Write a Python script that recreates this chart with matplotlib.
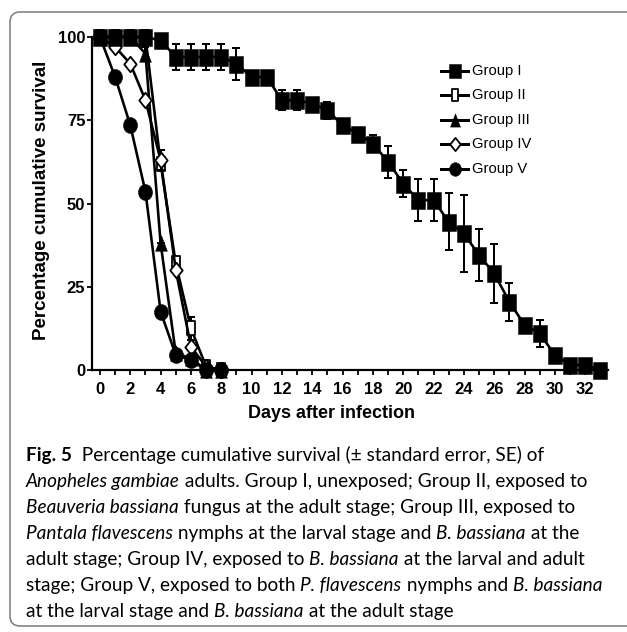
import numpy as np
import matplotlib
matplotlib.use("Agg")
import matplotlib.pyplot as plt
from matplotlib.path import Path
from matplotlib.transforms import Affine2D
from matplotlib.lines import Line2D
from matplotlib.patches import FancyBboxPatch
from matplotlib.ticker import MultipleLocator

# ---- data: percentage cumulative survival per day ----
days_long = list(range(0, 34))
group1 = [100, 100, 100, 100, 99, 94, 94, 94, 94, 92, 88, 88, 81, 81, 80, 78,
          73.5, 71, 68, 62.5, 56, 51, 51, 44.5, 41, 34.5, 29, 20.5, 13.5, 11,
          4.5, 1.5, 1.5, 0]
group1_se = [0, 0, 0, 0, 1.5, 4, 4, 4, 4, 4.8, 1.5, 1.5, 3, 3, 1, 2.5, 1, 1,
             2.5, 4.7, 4, 6.3, 6.3, 8.6, 11.7, 7.8, 8.8, 5.7, 1, 4.1, 0.5, 0.5,
             0.5, 0]

days_short = list(range(0, 9))
group2 = [100, 100, 100, 100, 62, 32, 12.5, 1, 0]
group2_se = [0, 0, 0, 0, 0, 1, 3.5, 0, 0]
group3 = [100, 100, 100, 95, 38, 5, 3.5, 0, 0]
group3_se = [0, 0, 0, 2, 0, 0, 0, 0, 0]
group4 = [100, 97, 92, 81, 63, 30, 7, 1, 0]
group4_se = [0, 0, 0, 0, 3, 0, 0, 0, 0]
group5 = [100, 88, 73.5, 53.5, 17.5, 4.5, 3, 0, 0]
group5_se = [0, 0, 0, 0, 0, 0, 0, 0, 0]

labels = ["Group I", "Group II", "Group III", "Group IV", "Group V"]
y_ticks = [0, 25, 50, 75, 100]

caption_lines = [
    [("Fig. 5", "bold"), ("  Percentage cumulative survival (\u00b1 standard error, SE) of", "normal")],
    [("Anopheles gambiae", "italic"), (" adults. Group I, unexposed; Group II, exposed to", "normal")],
    [("Beauveria bassiana", "italic"), (" fungus at the adult stage; Group III, exposed to", "normal")],
    [("Pantala flavescens", "italic"), (" nymphs at the larval stage and ", "normal"),
     ("B. bassiana", "italic"), (" at the", "normal")],
    [("adult stage; Group IV, exposed to ", "normal"), ("B. bassiana", "italic"),
     (" at the larval and adult", "normal")],
    [("stage; Group V, exposed to both ", "normal"), ("P. flavescens", "italic"),
     (" nymphs and ", "normal"), ("B. bassiana", "italic")],
    [("at the larval stage and ", "normal"), ("B. bassiana", "italic"),
     (" at the adult stage", "normal")],
]

# ---- figure setup ----
W, H, DPI = 627, 632, 100
plt.rcParams["font.family"] = ["Liberation Sans", "DejaVu Sans"]
fig = plt.figure(figsize=(W / DPI, H / DPI), dpi=DPI)


def fx(px):
    return px / W


def fy(py):
    return 1 - py / H


PT = 72 / DPI  # points per pixel

# rounded frame around chart and caption
frame = FancyBboxPatch((fx(10), fy(626)), fx(660), fy(12) - fy(626),
                       boxstyle="round,pad=0,rounding_size=0.016",
                       transform=fig.transFigure, facecolor="none",
                       edgecolor="#808080", linewidth=1.6 * PT, zorder=0)
fig.add_artist(frame)

ax_left, ax_right, ax_top, ax_bottom = 92.4, 607.9, 37, 370
ax = fig.add_axes([fx(ax_left), fy(ax_bottom), fx(ax_right - ax_left),
                   fy(ax_top) - fy(ax_bottom)])
ax.set_xlim(-0.5, 33.5)
ax.set_ylim(0, 100)
ax.patch.set_alpha(0)


# ---- markers (taller than wide, as printed) ----
def box(w, h):
    return Path([(-w / 2, -h / 2), (w / 2, -h / 2), (w / 2, h / 2), (-w / 2, h / 2), (-w / 2, -h / 2)],
                [Path.MOVETO, Path.LINETO, Path.LINETO, Path.LINETO, Path.CLOSEPOLY])


m_square = box(0.88, 1.0)
m_rect = box(0.6, 1.0)
m_tri = Path([(-0.38, -0.5), (0.38, -0.5), (0, 0.5), (-0.38, -0.5)],
             [Path.MOVETO, Path.LINETO, Path.LINETO, Path.CLOSEPOLY])
m_dia = Path([(0, -0.5), (0.4, 0), (0, 0.5), (-0.4, 0), (0, -0.5)],
             [Path.MOVETO, Path.LINETO, Path.LINETO, Path.LINETO, Path.CLOSEPOLY])
m_ell = Affine2D().scale(0.44, 0.5).transform_path(Path.unit_circle())

lw = 2.6 * PT
sizes = [17, 13.5, 15.5, 15.5, 16]
shapes = [m_square, m_rect, m_tri, m_dia, m_ell]
fills = ["black", "white", "black", "white", "black"]


def style(i, scale=1.0):
    hollow = fills[i] == "white"
    return dict(marker=shapes[i], markersize=sizes[i] * scale * PT,
                mfc=fills[i], mec="black", mew=(1.8 if hollow else 0.5) * PT)


series = [
    (days_long, group1, group1_se, 10),
    (days_short, group2, group2_se, 3),
    (days_short, group3, group3_se, 4),
    (days_short, group4, group4_se, 6),
    (days_short, group5, group5_se, 7),
]

for i, (x, y, se, z) in enumerate(series):
    ax.errorbar(x, y, yerr=se, fmt="none", ecolor="black", elinewidth=2.0 * PT,
                capsize=4 * PT, capthick=2.0 * PT, zorder=z - 0.5, clip_on=False)
    ax.plot(x, y, color="black", linewidth=lw, zorder=z, clip_on=False, **style(i))

# ---- axes styling ----
for s in ["top", "right"]:
    ax.spines[s].set_visible(False)
for s in ["left", "bottom"]:
    ax.spines[s].set_linewidth(2.2 * PT)
    ax.spines[s].set_zorder(1)

ax.xaxis.set_major_locator(MultipleLocator(2))
ax.xaxis.set_minor_locator(MultipleLocator(1))
ax.set_xticks(range(0, 33, 2))
ax.set_yticks(y_ticks)
ax.tick_params(axis="both", which="both", direction="out", length=5 * PT,
               width=1.8 * PT, labelsize=12)
ax.tick_params(axis="x", which="major", pad=5)
ax.tick_params(axis="y", which="major", pad=1.5)
for lab in ax.get_xticklabels() + ax.get_yticklabels():
    lab.set_fontweight("bold")

fig.text(fx(332), fy(413), "Days after infection", ha="center", va="center",
         fontsize=13, fontweight="bold")
fig.text(fx(42), fy(200), "Percentage cumulative survival", ha="center",
         va="center", rotation=90, fontsize=13.5, fontweight="bold")

# ---- legend ----
leg_y0, leg_dy = 71, 24.4
for i, lab in enumerate(labels):
    yy = fy(leg_y0 + i * leg_dy)
    fig.add_artist(Line2D([fx(441), fx(468)], [yy, yy], color="black",
                          linewidth=3.0 * PT, transform=fig.transFigure))
    fig.add_artist(Line2D([fx(455)], [yy], linestyle="none",
                          transform=fig.transFigure, **style(i, 0.85)))
    fig.text(fx(472), yy, lab, ha="left", va="center", fontsize=10.6)

# ---- caption ----
renderer = fig.canvas.get_renderer()
cap_font = ["Lato", "DejaVu Sans"]


def seg_props(style_name, size):
    d = dict(fontsize=size, family=cap_font)
    if style_name == "bold":
        d["fontweight"] = "bold"
    elif style_name == "italic":
        d["fontstyle"] = "italic"
    return d


def advance(s, style_name, size):
    kw = seg_props(style_name, size)
    t1 = fig.text(0, 0, s + "|", **kw)
    t2 = fig.text(0, 0, "|", **kw)
    w = t1.get_window_extent(renderer).width - t2.get_window_extent(renderer).width
    t1.remove()
    t2.remove()
    return w


# fit the caption size to the typical line width of the text block
base_size = 14.0
fit_lines = [0, 2, 3, 4, 5, 6]
fit_targets = [504, 552, 552, 562, 582, 434]
natural = sum(sum(advance(s, st, base_size) for s, st in caption_lines[k]) for k in fit_lines)
cap_size = base_size * (sum(fit_targets) / natural)

cap_x0, base0, line_step = 26, 461, 26
for i, line in enumerate(caption_lines):
    xpos = cap_x0
    ypos = fy(base0 + i * line_step)
    for s, st in line:
        fig.text(fx(xpos), ypos, s, ha="left", va="baseline", **seg_props(st, cap_size))
        xpos += advance(s, st, cap_size)

fig.savefig("out.png", dpi=DPI)
